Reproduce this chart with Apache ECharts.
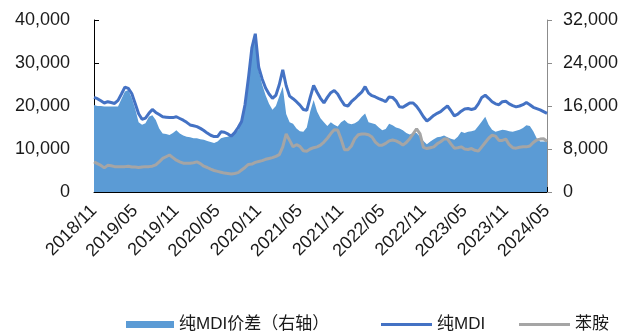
<!DOCTYPE html>
<html>
<head>
<meta charset="utf-8">
<script src="https://cdn.jsdelivr.net/npm/echarts@6/dist/echarts.min.js"></script>
<style>
  html, body { margin: 0; padding: 0; background: #fff; }
  #chart { width: 627px; height: 333px; }
</style>
</head>
<body>
<div id="chart"></div>
<script>
// Semi-monthly observations, starting 2018/11 and ending 2024/05.
const startYear = 2018;
const startMonth = 11;
const pointsPerMonth = 2;

// Tick labels every six months along the time axis.
const tickLabels = ['2018/11', '2019/05', '2019/11', '2020/05', '2020/11', '2021/05',
  '2021/11', '2022/05', '2022/11', '2023/05', '2023/11', '2024/05'];

// 纯MDI price (yuan/t, left axis)
const mdiPrice = [
  22000, 21700, 21200, 20700, 21000, 20800, 20600, 21300, 22800, 24400,
  24100, 22900, 20600, 18200, 16900, 17200, 18300, 19200, 18500, 18000,
  17500, 17400, 17300, 17300, 17500, 17100, 16700, 16200, 15600, 15400,
  15200, 14800, 14300, 13700, 13200, 12900, 12900, 14000, 13900, 13500,
  13000, 13800, 15000, 16400, 20300, 26500, 33500, 36800, 29000, 26300,
  24200, 22800, 21800, 22500, 25000, 28400, 24700, 22300, 21700, 21000,
  20200, 19200, 19000, 22000, 24800, 23200, 21800, 20700, 22000, 23100,
  23600, 22800, 21400, 20200, 20000, 21000, 21700, 22500, 23200, 24500,
  23000, 22400, 22100, 21700, 21400, 21000, 22100, 22000, 21200, 19800,
  19700, 20200, 20700, 20700, 19900, 18800, 17500, 16500, 17100, 17800,
  18300, 18700, 19400, 20000, 18900, 17700, 18100, 18800, 19300, 19400,
  19200, 19400, 20500, 22000, 22500, 21800, 21000, 20500, 20300, 21000,
  21100, 20500, 20100, 19800, 20000, 20300, 20800, 20300, 19700, 19400,
  19100, 18700, 18300
];

// 苯胺 price (yuan/t, left axis)
const anilinePrice = [
  7000, 6600, 6200, 5600, 6200, 6100, 5900, 5900, 5900, 5900,
  6000, 5800, 5800, 5700, 5800, 5900, 5900, 6000, 6300, 7000,
  7800, 8200, 8600, 8000, 7400, 7000, 6700, 6700, 6700, 6800,
  7000, 6600, 6000, 5700, 5300, 5000, 4800, 4600, 4400, 4300,
  4200, 4300, 4500, 5100, 5700, 6400, 6500, 6900, 7100, 7300,
  7600, 7800, 8000, 8300, 8700, 10500, 13500, 12000, 10500, 11000,
  10600, 9600, 9500, 10000, 10300, 10500, 10900, 11600, 12500, 13600,
  14500, 14400, 12300, 9800, 9800, 10700, 12400, 13300, 13500, 13500,
  13300, 12800, 11600, 10900, 10900, 11300, 11900, 12100, 11900, 11500,
  10900, 11500, 12400, 13500, 14700, 13500, 10400, 10100, 10300, 10500,
  11200, 11700, 12300, 12300, 11200, 10200, 10300, 10500, 10000, 9900,
  10100, 9700, 9500, 10500, 11500, 12500, 13200, 13000, 12000, 12000,
  12300, 11000, 10300, 10200, 10400, 10500, 10500, 10700, 11500, 12100,
  12300, 12400, 11800
];

// 纯MDI价差 (yuan/t, right axis)
const mdiSpread = [
  16200, 16000, 16000, 15900, 15900, 15900, 15900, 15900, 17300, 18700,
  19000, 17500, 15500, 13000, 12500, 12800, 14000, 14300, 13400, 11800,
  10900, 10800, 10600, 11000, 11500, 10900, 10500, 10300, 10200, 10000,
  10000, 9800, 9700, 9500, 9300, 9100, 9400, 10000, 10200, 10300,
  10600, 10900, 11500, 13500, 16200, 21000, 26500, 28300, 22500, 20000,
  18000, 16400, 15300, 16000, 17800, 19600, 14500, 13000, 12700, 11800,
  11300, 11200, 12000, 15000, 17100, 15000, 13700, 13000, 12300, 13000,
  12500, 12200, 13000, 13400, 12800, 12600, 12800, 13200, 14000, 14600,
  13000, 12800, 12600, 12000, 11500, 11700, 12700, 12400, 12000, 11800,
  11500, 11000, 10700, 11000, 11000, 10300, 9500, 8900, 9400, 9800,
  10200, 10300, 10500, 10200, 9900, 9700, 10300, 11200, 11000, 11200,
  11300, 11500, 12300, 13100, 14000, 12500, 11600, 11200, 11400, 11600,
  11500, 11300, 11200, 11400, 11600, 11900, 12400, 12300, 11300, 10000,
  9400, 9400, 9400
];

// Category labels for each observation (year/month of the half-month slot).
const categories = mdiPrice.map((_, i) => {
  const m = startYear * 12 + (startMonth - 1) + Math.floor(i / pointsPerMonth);
  const y = Math.floor(m / 12);
  const mm = (m % 12) + 1;
  return y + '/' + (mm < 10 ? '0' + mm : mm);
});
const labelStep = 6 * pointsPerMonth;

const fmt = v => v.toLocaleString('en-US');
const axisFont = { fontFamily: 'Liberation Sans, Arial, sans-serif', fontSize: 18, color: '#1a1a1a' };
const legendFont = { fontFamily: 'Liberation Sans, Noto Sans CJK SC, sans-serif', fontSize: 17, color: '#1a1a1a' };

const chart = echarts.init(document.getElementById('chart'), null, { renderer: 'canvas' });
chart.setOption({
  animation: false,
  backgroundColor: '#ffffff',
  grid: { left: 94, right: 80, top: 20, bottom: 141 },
  legend: [
    { data: [{ name: '纯MDI价差（右轴）', icon: 'rect' }], left: 121, top: 311,
      itemWidth: 48, itemHeight: 7, textStyle: legendFont },
    { data: [{ name: '纯MDI', icon: 'rect' }], left: 376, top: 311,
      itemWidth: 51, itemHeight: 3, textStyle: legendFont },
    { data: [{ name: '苯胺', icon: 'rect' }], left: 514, top: 311,
      itemWidth: 51, itemHeight: 3, textStyle: legendFont }
  ],
  xAxis: {
    type: 'category',
    data: categories,
    boundaryGap: false,
    axisLine: { lineStyle: { color: '#000', width: 1 } },
    axisTick: {
      inside: true, length: 5,
      interval: (i) => i % labelStep === 0,
      lineStyle: { color: '#000' }
    },
    axisLabel: {
      ...axisFont,
      rotate: 45,
      margin: 16,
      interval: (i) => i % labelStep === 0,
      formatter: (v, i) => tickLabels[i / labelStep] || v
    },
    splitLine: { show: false }
  },
  yAxis: [
    {
      type: 'value', min: 0, max: 40000, interval: 10000,
      axisLine: { show: true, lineStyle: { color: '#000' } },
      axisTick: { show: true, inside: true, length: 5, lineStyle: { color: '#000' } },
      axisLabel: { ...axisFont, margin: 24, formatter: fmt },
      splitLine: { show: false }
    },
    {
      type: 'value', min: 0, max: 32000, interval: 8000,
      position: 'right',
      axisLine: { show: true, lineStyle: { color: '#8c8c8c' } },
      axisTick: { show: true, length: 5, lineStyle: { color: '#8c8c8c' } },
      axisLabel: { ...axisFont, margin: 16, formatter: fmt },
      splitLine: { show: false }
    }
  ],
  series: [
    {
      name: '纯MDI价差（右轴）',
      type: 'line',
      yAxisIndex: 1,
      data: mdiSpread,
      showSymbol: false,
      symbol: 'none',
      lineStyle: { width: 0, color: '#5B9BD5' },
      itemStyle: { color: '#5B9BD5' },
      areaStyle: { color: '#5B9BD5', opacity: 1 },
      z: 1
    },
    {
      name: '纯MDI',
      type: 'line',
      yAxisIndex: 0,
      data: mdiPrice,
      showSymbol: false,
      symbol: 'none',
      lineStyle: { width: 3, color: '#4472C4' },
      itemStyle: { color: '#4472C4' },
      z: 3
    },
    {
      name: '苯胺',
      type: 'line',
      yAxisIndex: 0,
      data: anilinePrice,
      showSymbol: false,
      symbol: 'none',
      lineStyle: { width: 3, color: '#A5A5A5' },
      itemStyle: { color: '#A5A5A5' },
      z: 2
    }
  ]
});
</script>
</body>
</html>
